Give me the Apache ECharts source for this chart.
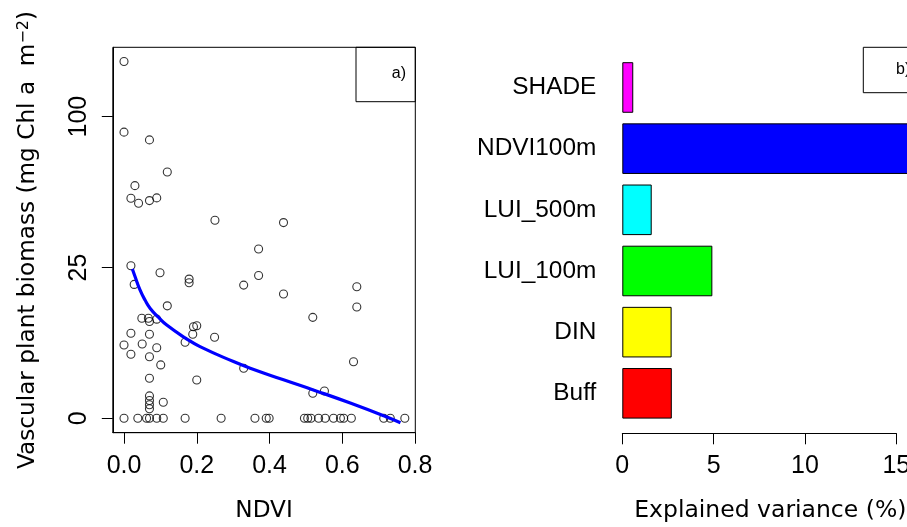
<!DOCTYPE html>
<html><head><meta charset="utf-8">
<script src="https://cdn.jsdelivr.net/npm/echarts@6/dist/echarts.min.js"></script>
<style>html,body{margin:0;padding:0;background:#fff}#c{width:907px;height:527px}</style>
</head><body><div id="c"></div>
<script>
// ---- Panel a: scatter (NDVI vs vascular plant biomass, mg Chl a m^-2) ----
const ndvi = [
  0.000, 0.000, 0.070, 0.119, 0.030, 0.019, 0.040, 0.070, 0.090, 0.250,
  0.4385, 0.370, 0.019, 0.099, 0.370, 0.179, 0.179, 0.028, 0.329, 0.640,
  0.4385, 0.119, 0.640, 0.519, 0.049, 0.067, 0.070, 0.090, 0.191, 0.200,
  0.019, 0.070, 0.189, 0.249, 0.168, 0.000, 0.050, 0.090, 0.019, 0.070,
  0.101, 0.631, 0.329, 0.070, 0.200, 0.551, 0.519, 0.070, 0.070, 0.070,
  0.070, 0.108,
  0.000, 0.038, 0.062, 0.070, 0.090, 0.108, 0.168, 0.267, 0.360, 0.391,
  0.399, 0.496, 0.505, 0.514, 0.535, 0.553, 0.576, 0.595, 0.604, 0.625,
  0.714, 0.732, 0.772
];
const biomass = [
  139.9, 90.0, 85.2, 66.7, 59.5, 53.2, 50.8, 52.1, 53.4, 43.1,
  42.1, 31.5, 25.6, 23.3, 22.4, 21.3, 20.2, 19.7, 19.5, 19.0,
  17.0, 13.9, 13.6, 11.2, 11.0, 11.0, 10.3, 10.8, 9.2, 9.4,
  7.95, 7.76, 7.76, 7.22, 6.35, 5.9, 6.07, 5.48, 4.5, 4.17,
  3.13, 3.52, 2.75, 1.76, 1.61, 0.82, 0.69, 0.55, 0.35, 0.20,
  0.10, 0.28,
  0, 0, 0, 0, 0, 0, 0, 0, 0, 0,
  0, 0, 0, 0, 0, 0, 0, 0, 0, 0,
  0, 0, 0
];
const fitNdvi = [0.023, 0.0303, 0.044, 0.0578, 0.0716, 0.0945, 0.1175, 0.170, 0.209, 0.301, 0.347, 0.4385, 0.530, 0.622, 0.714, 0.760];
const fitSqrtBiomass = [4.95, 4.70, 4.256, 3.92, 3.65, 3.35, 3.09, 2.65, 2.375, 1.88, 1.66, 1.276, 0.90, 0.505, 0.082, -0.15];
const xTicksA = [0, 0.2, 0.4, 0.6, 0.8];
const yTicksA = [0, 25, 100];

// ---- Panel b: explained variance bars ----
const predictors = ['Buff', 'DIN', 'LUI_100m', 'LUI_500m', 'NDVI100m', 'SHADE'];
const explainedVariance = [2.71, 2.70, 4.93, 1.61, 15.8, 0.60];
const barColors = ['#FF0000', '#FFFF00', '#00FF00', '#00FFFF', '#0000FF', '#FF00FF'];
const xTicksB = [0, 5, 10, 15];

const FONT = 'Liberation Sans, Arial, sans-serif';
const TFONT = 'DejaVu Sans, sans-serif';
const chart = echarts.init(document.getElementById('c'), null, {renderer: 'canvas'});

const scatterData = ndvi.map((x, i) => [x, Math.sqrt(biomass[i])]);
const fitData = fitNdvi.map((x, i) => [x, fitSqrtBiomass[i]]);
const ySqrtTicks = yTicksA.map(v => Math.sqrt(v));

const option = {
  animation: false,
  backgroundColor: '#fff',
  textStyle: {fontFamily: FONT, color: '#000'},
  grid: [
    {left: 112.8, right: 491.7, top: 47.3, bottom: 94.3, show: true, borderColor: '#000', borderWidth: 1,
     backgroundColor: 'transparent', containLabel: false, outerBoundsMode: 'none'},
    {left: 622.3, right: 10.7, top: 56.9, bottom: 103.1, containLabel: false, outerBoundsMode: 'none'}
  ],
  xAxis: [
    {
      type: 'value', gridIndex: 0, min: -0.0308, max: 0.8008,
      axisLine: {show: true, onZero: false, lineStyle: {color: '#000', width: 1}},
      axisTick: {show: true, inside: false, length: 11, customValues: xTicksA, lineStyle: {color: '#000', width: 1}},
      axisLabel: {customValues: xTicksA, formatter: v => v.toFixed(1), fontSize: 25, color: '#000', margin: 21, fontFamily: FONT},
      splitLine: {show: false},
      name: 'NDVI', nameLocation: 'middle', nameGap: 66.5,
      nameTextStyle: {fontSize: 23.2, color: '#000', fontFamily: TFONT}
    },
    {
      type: 'value', gridIndex: 1, min: 0, max: 15, interval: 5, offset: 9.4,
      axisLine: {show: true, onZero: false, lineStyle: {color: '#000', width: 1}},
      axisTick: {show: true, inside: false, length: 11, customValues: xTicksB, lineStyle: {color: '#000', width: 1}},
      axisLabel: {customValues: xTicksB, fontSize: 25, color: '#000', margin: 20.5, fontFamily: FONT},
      splitLine: {show: false},
      name: 'Explained variance (%)', nameLocation: 'middle', nameGap: 66,
      nameTextStyle: {fontSize: 23.5, color: '#000', fontFamily: TFONT, padding: [0, 0, 0, 22]}
    }
  ],
  yAxis: [
    {
      type: 'value', gridIndex: 0, min: -0.478, max: 12.3,
      axisLine: {show: true, onZero: false, lineStyle: {color: '#000', width: 1}},
      axisTick: {show: true, inside: false, length: 11, customValues: ySqrtTicks, lineStyle: {color: '#000', width: 1}},
      axisLabel: {customValues: ySqrtTicks, formatter: v => String(Math.round(v * v)), rotate: 90, fontSize: 25, color: '#000', margin: 21, fontFamily: FONT},
      splitLine: {show: false},
      name: '{n|Vascular plant biomass (mg Chl a  m}{s|\u22122}{n|)}',
      nameLocation: 'middle', nameGap: 73,
      nameTextStyle: {
        fontSize: 23.2, color: '#000', fontFamily: TFONT,
        rich: {
          n: {fontSize: 23.2, lineHeight: 24, verticalAlign: 'bottom', fontFamily: TFONT, color: '#000'},
          s: {fontSize: 16, lineHeight: 16, verticalAlign: 'top', padding: [0, 0, 20, 0], fontFamily: TFONT, color: '#000'}
        }
      }
    },
    {
      type: 'category', gridIndex: 1, data: predictors,
      axisLine: {show: false}, axisTick: {show: false},
      axisLabel: {fontSize: 24.4, color: '#000', margin: 26, fontFamily: FONT},
      splitLine: {show: false}
    }
  ],
  series: [
    {
      type: 'scatter', xAxisIndex: 0, yAxisIndex: 0, data: scatterData,
      symbol: 'circle', symbolSize: 8,
      itemStyle: {color: 'transparent', borderColor: '#000', borderWidth: 1.1},
      z: 2
    },
    {
      type: 'line', xAxisIndex: 0, yAxisIndex: 0, data: fitData,
      showSymbol: false, smooth: 0.5,
      lineStyle: {color: '#0000FF', width: 3.2},
      z: 3
    },
    {
      type: 'bar', xAxisIndex: 1, yAxisIndex: 1, clip: false,
      data: explainedVariance.map((v, i) => ({value: v, itemStyle: {color: barColors[i]}})),
      barCategoryGap: '17.3%',
      itemStyle: {borderColor: '#000', borderWidth: 1}
    }
  ],
  graphic: [
    {type: 'rect', shape: {x: 356, y: 47.3, width: 59.3, height: 54.4}, style: {fill: 'transparent', stroke: '#000', lineWidth: 1}},
    {type: 'text', x: 406, y: 73.7, style: {text: 'a)', fontSize: 16, fontFamily: FONT, fill: '#000', align: 'right', verticalAlign: 'middle'}},
    {type: 'rect', shape: {x: 863.3, y: 47.3, width: 59.3, height: 45.4}, style: {fill: 'transparent', stroke: '#000', lineWidth: 1}},
    {type: 'text', x: 896, y: 69.2, style: {text: 'b)', fontSize: 16, fontFamily: FONT, fill: '#000', align: 'left', verticalAlign: 'middle'}}
  ]
};
chart.setOption(option);
</script>
</body></html>
